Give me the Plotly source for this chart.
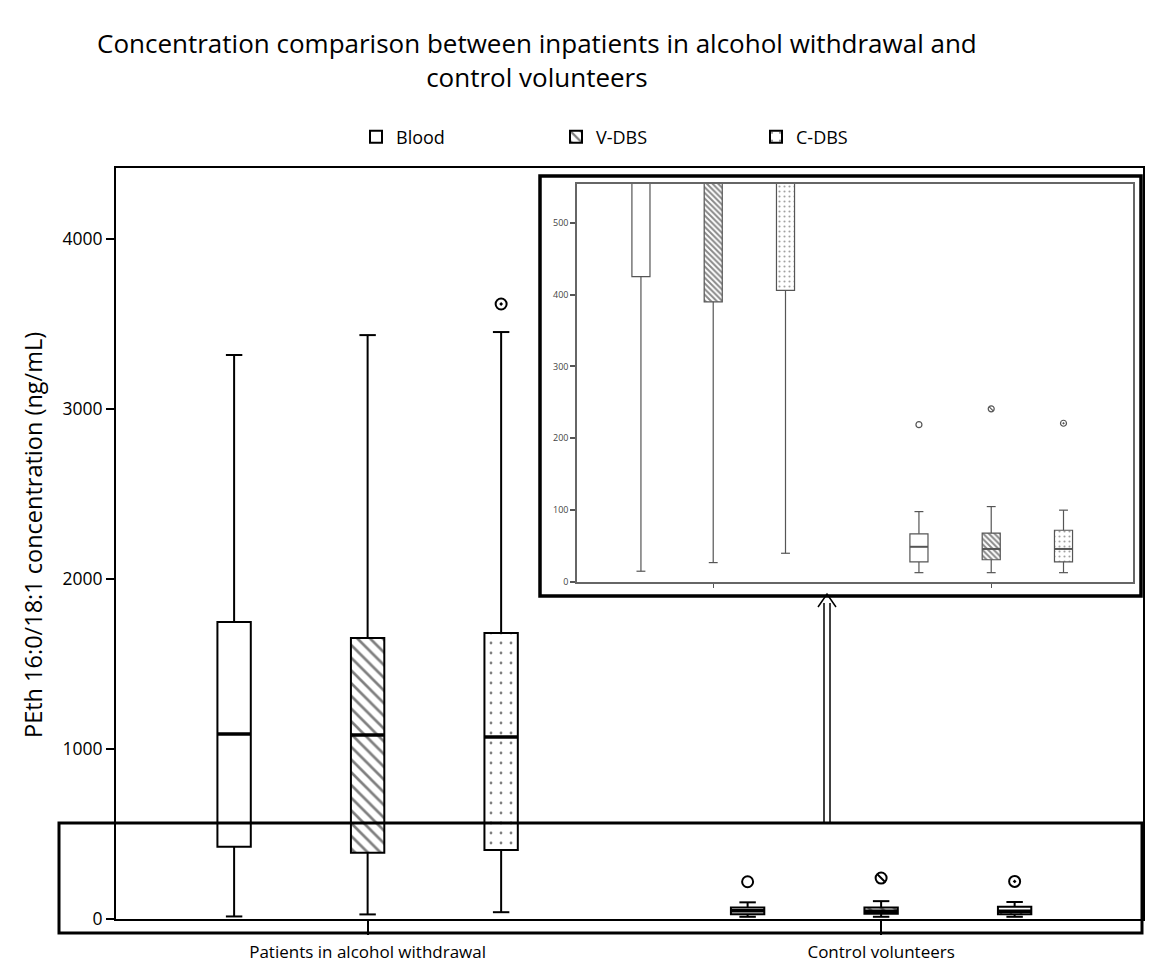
import plotly.graph_objects as go

# ---------------- data ----------------
categories = ["Patients in alcohol withdrawal", "Control volunteers"]
groups = ["Blood", "V-DBS", "C-DBS"]

# per group: [patients, controls]
lower_whisker = {"Blood": [15, 13], "V-DBS": [27, 13], "C-DBS": [40, 13]}
q1 = {"Blood": [425, 28], "V-DBS": [390, 31], "C-DBS": [406, 28]}
median = {"Blood": [1088, 49], "V-DBS": [1082, 46], "C-DBS": [1071, 46]}
q3 = {"Blood": [1747, 67], "V-DBS": [1653, 68], "C-DBS": [1682, 72]}
upper_whisker = {"Blood": [3318, 98], "V-DBS": [3435, 105], "C-DBS": [3453, 100]}
outliers = {"Blood": [[], [219]], "V-DBS": [[], [241]], "C-DBS": [[3618], [221]]}

main_yticks = [0, 1000, 2000, 3000, 4000]
inset_yticks = [0, 100, 200, 300, 400, 500]

title_text = ("Concentration comparison between inpatients in alcohol withdrawal and<br>"
              "control volunteers")
y_title = "PEth 16:0/18:1 concentration (ng/mL)"

# ---------------- layout constants ----------------
W, H = 1157, 967
ML, MR, MT, MB = 116, 14, 168, 48
PW, PH = W - ML - MR, H - MT - MB

def px2x(x):
    return (x - ML) / PW

def px2y(y):
    return (H - MB - y) / PH

cat_pos = [1, 3]
offsets = {"Blood": -0.52, "V-DBS": 0.0, "C-DBS": 0.52}
box_w = 0.13
cap = 0.032
FONT = "Open Sans"

patterns = {
    "Blood": dict(main=dict(shape=""), inset=dict(shape="")),
    "V-DBS": dict(main=dict(shape="\\", size=9, solidity=0.3, fgcolor="black", bgcolor="white"),
                  inset=dict(shape="\\", size=4, solidity=0.5, fgcolor="#111", bgcolor="white")),
    "C-DBS": dict(main=dict(shape=".", size=10, solidity=0.06, fgcolor="black", bgcolor="white"),
                  inset=dict(shape=".", size=5, solidity=0.14, fgcolor="#444", bgcolor="white")),
}
out_symbol = {"Blood": "circle-open", "V-DBS": "circle-open", "C-DBS": "circle-open-dot"}

fig = go.Figure()

for which, xa, ya in [("main", "x", "y"), ("inset", "x2", "y2")]:
    is_main = which == "main"
    lc = "black" if is_main else "#555"
    lw = 2 if is_main else 1.2
    for g in groups:
        xs = [c + offsets[g] for c in cat_pos]
        pat = patterns[g][which]
        fig.add_trace(go.Bar(
            x=xs, y=[b - a for a, b in zip(q1[g], q3[g])], base=q1[g], width=box_w,
            marker=dict(color="white", line=dict(color=lc, width=lw), pattern=pat),
            name=g, showlegend=is_main, legendgroup=g, xaxis=xa, yaxis=ya,
            hoverinfo="skip"))
        # whiskers with caps
        wx, wy = [], []
        for i, x in enumerate(xs):
            wx += [x, x, None, x - cap, x + cap, None, x, x, None, x - cap, x + cap, None]
            wy += [q3[g][i], upper_whisker[g][i], None, upper_whisker[g][i], upper_whisker[g][i], None,
                   q1[g][i], lower_whisker[g][i], None, lower_whisker[g][i], lower_whisker[g][i], None]
        fig.add_trace(go.Scatter(x=wx, y=wy, mode="lines", line=dict(color=lc, width=lw),
                                 showlegend=False, xaxis=xa, yaxis=ya, hoverinfo="skip"))
        # medians
        mx, my = [], []
        for i, x in enumerate(xs):
            mx += [x - box_w / 2, x + box_w / 2, None]
            my += [median[g][i], median[g][i], None]
        fig.add_trace(go.Scatter(x=mx, y=my, mode="lines",
                                 line=dict(color=lc, width=3.5 if is_main else 2),
                                 showlegend=False, xaxis=xa, yaxis=ya, hoverinfo="skip"))
        # outliers
        ox, oy = [], []
        for i, x in enumerate(xs):
            for v in outliers[g][i]:
                ox.append(x)
                oy.append(v)
        if ox:
            fig.add_trace(go.Scatter(x=ox, y=oy, mode="markers", cliponaxis=True,
                                     marker=dict(symbol=out_symbol[g], size=11 if is_main else 6,
                                                 color=lc, line=dict(color=lc, width=2 if is_main else 1.2)),
                                     showlegend=False, xaxis=xa, yaxis=ya, hoverinfo="skip"))
            if g == "V-DBS":
                fig.add_trace(go.Scatter(x=ox, y=oy, mode="markers", cliponaxis=True,
                                         marker=dict(symbol="line-nw", size=7 if is_main else 4,
                                                     color=lc, line=dict(color=lc, width=2 if is_main else 1.2)),
                                         showlegend=False, xaxis=xa, yaxis=ya, hoverinfo="skip"))

shapes = []
# highlighted low-concentration band
shapes.append(dict(type="rect", xref="paper", yref="paper",
                   x0=px2x(59), x1=px2x(1142), y0=px2y(933), y1=px2y(823),
                   line=dict(color="black", width=3), layer="above"))
# inset outer frame
shapes.append(dict(type="rect", xref="paper", yref="paper",
                   x0=px2x(540), x1=px2x(1141), y0=px2y(596), y1=px2y(176),
                   line=dict(color="black", width=3.5), layer="above"))
# hollow arrow
for xx in (824, 830):
    shapes.append(dict(type="line", xref="paper", yref="paper",
                       x0=px2x(xx), x1=px2x(xx), y0=px2y(823), y1=px2y(603),
                       line=dict(color="black", width=1.5), layer="above"))
path = "M {},{} L {},{} L {},{}".format(px2x(818), px2y(607), px2x(827), px2y(594), px2x(836), px2y(607))
shapes.append(dict(type="path", xref="paper", yref="paper", path=path,
                   line=dict(color="black", width=1.5), layer="above"))

annotations = [
    dict(text=title_text, xref="paper", yref="paper", x=px2x(537), y=px2y(60),
         xanchor="center", yanchor="middle", showarrow=False, align="center",
         font=dict(size=26, family=FONT, color="black")),
    dict(text=y_title, textangle=-90,
         xref="paper", yref="paper", x=px2x(33), y=px2y(535),
         xanchor="center", yanchor="middle", showarrow=False,
         font=dict(size=23.5, family=FONT, color="black")),
]

fig.update_layout(
    width=W, height=H,
    margin=dict(l=ML, r=MR, t=MT, b=MB, autoexpand=False),
    paper_bgcolor="white", plot_bgcolor="white",
    barmode="overlay",
    font=dict(family=FONT, color="black"),
    legend=dict(orientation="h", x=px2x(356), xanchor="left", y=px2y(137), yanchor="middle",
                font=dict(size=18, family=FONT), entrywidth=155, entrywidthmode="pixels",
                bgcolor="rgba(0,0,0,0)", traceorder="normal"),
    shapes=shapes,
    annotations=annotations,
    xaxis=dict(range=[0.02, 4.02], tickvals=cat_pos, ticktext=categories, automargin=False,
               ticks="outside", ticklen=14, tickwidth=2, tickcolor="black",
               ticklabelstandoff=3,
               showline=True, linecolor="black", linewidth=1.5, mirror=True,
               showgrid=False, zeroline=False, tickfont=dict(size=17, family=FONT)),
    yaxis=dict(range=[0, 4418], tickvals=main_yticks, ticks="outside", ticklen=8, tickwidth=2,
               automargin=False,
               tickcolor="black", showline=True, linecolor="black", linewidth=2, mirror=True,
               showgrid=False, zeroline=False, tickfont=dict(size=17.5, family=FONT)),
    xaxis2=dict(domain=[px2x(577), px2x(1133)], anchor="y2", range=[0.02, 4.02],
                tickvals=cat_pos, ticktext=["", ""], ticks="outside", ticklen=4, tickcolor="#555",
                showline=True, linecolor="#666", linewidth=1.5, mirror=True,
                showgrid=False, zeroline=False),
    yaxis2=dict(domain=[px2y(582), px2y(184)], anchor="x2", range=[0, 554],
                tickvals=inset_yticks, ticks="outside", ticklen=5, tickwidth=1.5, tickcolor="#555",
                showline=True, linecolor="#666", linewidth=1.5, mirror=True,
                showgrid=False, zeroline=False, tickfont=dict(size=9, family=FONT, color="#444")),
)

fig.write_html("out.html")
